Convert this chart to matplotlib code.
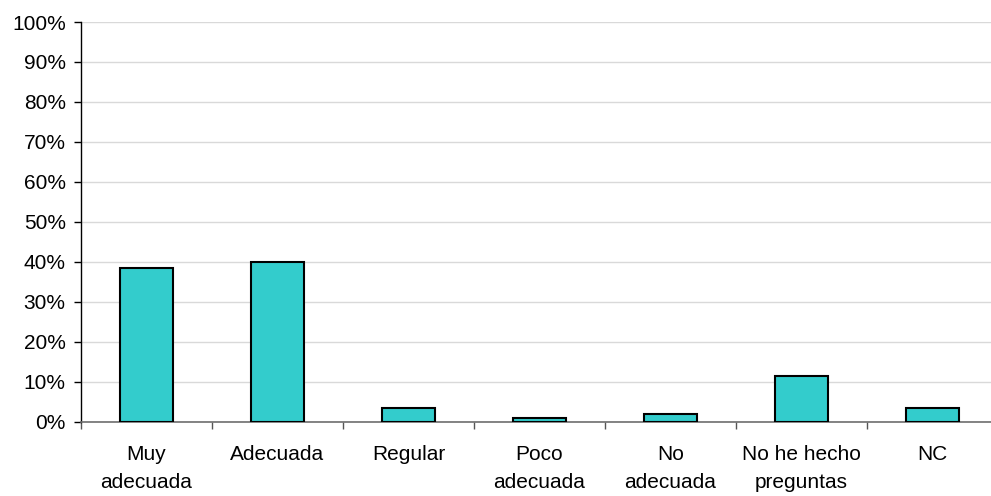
import matplotlib
matplotlib.use("Agg")
import matplotlib.pyplot as plt
from matplotlib.ticker import MultipleLocator, FuncFormatter
import numpy as np

# categories and percentages
categories = ["Muy\nadecuada", "Adecuada", "Regular", "Poco\nadecuada",
              "No\nadecuada", "No he hecho\npreguntas", "NC"]
values = [38.4, 39.9, 3.4, 0.9, 2.0, 11.4, 3.4]

plt.rcParams['font.family'] = ['Liberation Sans', 'DejaVu Sans']

fig = plt.figure(figsize=(9.91, 4.96), dpi=100)
ax = fig.add_axes([81 / 991, 74.3 / 496, 917 / 991, 399.7 / 496])

x = np.arange(len(categories))
ax.bar(x, values, width=0.4, color="#33CCCC", edgecolor="black",
       linewidth=1.5, zorder=3)

ax.set_xlim(-0.5, len(categories) - 0.5)
ax.set_ylim(0, 100)
ax.yaxis.set_major_locator(MultipleLocator(10))
ax.yaxis.set_major_formatter(FuncFormatter(lambda v, p: f"{int(v)}%"))
ax.grid(axis="y", color="#d9d9d9", linewidth=1, zorder=0)

# category boundaries as minor ticks, labels centred
ax.set_xticks(x)
ax.set_xticklabels(categories, fontsize=15, linespacing=1.55)
ax.set_xticks(np.arange(len(categories) + 1) - 0.5, minor=True)
ax.tick_params(axis="x", which="major", length=0, pad=17)
ax.tick_params(axis="x", which="minor", length=5, color="#555555", width=1)
ax.tick_params(axis="y", length=5, width=1, labelsize=15, pad=6)

for s in ["top", "right"]:
    ax.spines[s].set_visible(False)
ax.spines["left"].set_color("black")
ax.spines["left"].set_linewidth(1)
ax.spines["bottom"].set_color("#6e6e6e")
ax.spines["bottom"].set_linewidth(1.2)

fig.savefig("out.png", dpi=100)
